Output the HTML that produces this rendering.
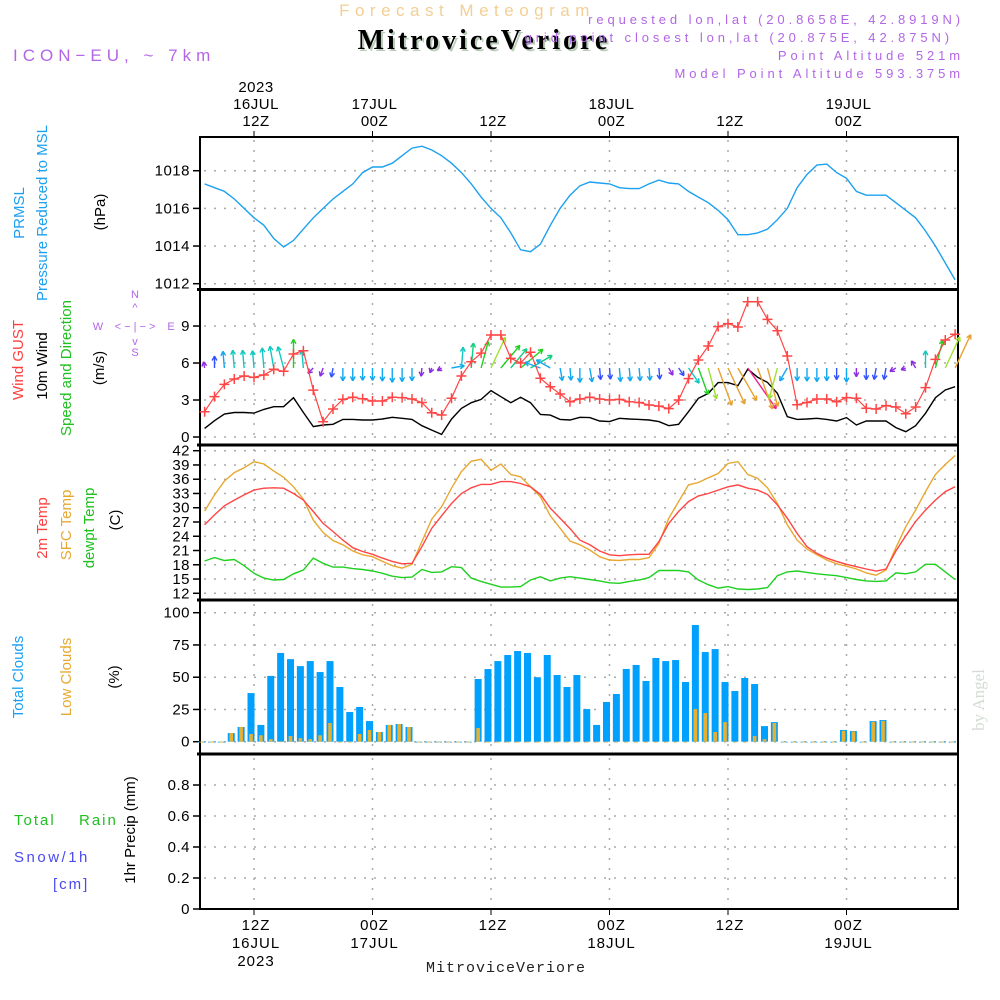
<!DOCTYPE html>
<html><head><meta charset="utf-8"><style>
html,body{margin:0;padding:0;background:#fff;}
svg{display:block;font-family:"Liberation Sans",sans-serif;}
</style></head><body>
<svg id="chart" width="1000" height="1000" viewBox="0 0 1000 1000" xmlns="http://www.w3.org/2000/svg">
<rect x="0" y="0" width="1000" height="1000" fill="#fff"/>
<text x="467" y="16" text-anchor="middle" font-size="17" fill="#f3cf95" letter-spacing="5.5">Forecast Meteogram</text>
<text x="486" y="51" text-anchor="middle" font-size="28" font-weight="bold" font-family="Liberation Serif, serif" fill="#b8ccb8" letter-spacing="3">MitroviceVeriore</text>
<text x="484" y="49" text-anchor="middle" font-size="28" font-weight="bold" font-family="Liberation Serif, serif" fill="#000" letter-spacing="3">MitroviceVeriore</text>
<text x="13" y="61" font-size="17" fill="#b266e6" letter-spacing="5">ICON−EU, ~ 7km</text>
<g font-size="13" fill="#b266e6" text-anchor="end" letter-spacing="3.9">
<text x="964" y="24">requested lon,lat (20.8658E, 42.8919N)</text>
<text x="953" y="42">grid point closest lon,lat (20.875E, 42.875N)</text>
<text x="964" y="60">Point Altitude 521m</text>
<text x="964" y="78">Model Point Altitude 593.375m</text>
</g>
<text transform="translate(984,700) rotate(-90)" text-anchor="middle" font-size="17" font-family="Liberation Serif, serif" fill="#d4dcd4">by Angel</text>

<g font-size="15">
<text transform="translate(24,213) rotate(-90)" text-anchor="middle" fill="#1ca0f0">PRMSL</text>
<text transform="translate(47,213) rotate(-90)" text-anchor="middle" fill="#1ca0f0">Pressure Reduced to MSL</text>
<text transform="translate(105,212) rotate(-90)" text-anchor="middle" fill="#000">(hPa)</text>
<text transform="translate(23,360) rotate(-90)" text-anchor="middle" fill="#ff4040">Wind GUST</text>
<text transform="translate(47,366) rotate(-90)" text-anchor="middle" fill="#000">10m Wind</text>
<text transform="translate(71,368) rotate(-90)" text-anchor="middle" fill="#20c020">Speed and Direction</text>
<text transform="translate(104,368) rotate(-90)" text-anchor="middle" fill="#000">(m/s)</text>
<text transform="translate(47,528) rotate(-90)" text-anchor="middle" fill="#ff4040">2m Temp</text>
<text transform="translate(71,525) rotate(-90)" text-anchor="middle" fill="#e8a830">SFC Temp</text>
<text transform="translate(94,528) rotate(-90)" text-anchor="middle" fill="#20c020">dewpt Temp</text>
<text transform="translate(120,520) rotate(-90)" text-anchor="middle" fill="#000">(C)</text>
<text transform="translate(23,677) rotate(-90)" text-anchor="middle" fill="#1ca0f0">Total Clouds</text>
<text transform="translate(71,677) rotate(-90)" text-anchor="middle" fill="#e8a830">Low Clouds</text>
<text transform="translate(119,677) rotate(-90)" text-anchor="middle" fill="#000">(%)</text>
<text transform="translate(135,830) rotate(-90)" text-anchor="middle" fill="#000">1hr Precip (mm)</text>
<text x="14" y="825" fill="#20c020" letter-spacing="2">Total</text>
<text x="79" y="825" fill="#20c020" letter-spacing="2">Rain</text>
<text x="14" y="862" fill="#4a4af0" letter-spacing="2.5">Snow/1h</text>
<text x="53" y="889" fill="#4a4af0" letter-spacing="2">[cm]</text>
</g>
<g font-size="11" fill="#b266e6" text-anchor="middle">
<text x="135" y="298">N</text><text x="135" y="311">^</text>
<text x="98" y="330">W</text><text x="135" y="330">&lt; − | − &gt;</text><text x="171" y="330">E</text>
<text x="135" y="345">v</text><text x="135" y="356">S</text>
</g>
<g id="plot"></g>
</svg>
<script>
// ---- data (hourly, t = hours since 00Z 16JUL, t=7..83) ----
const hours = [];
for (let t = 7; t <= 83; t++) hours.push(t);
const pressure = [1017.3,1017.1,1016.9,1016.5,1016.0,1015.5,1015.1,1014.4,1013.95,1014.3,1014.9,1015.5,1016.0,1016.5,1016.9,1017.3,1017.9,1018.2,1018.2,1018.4,1018.8,1019.2,1019.3,1019.1,1018.8,1018.4,1017.9,1017.3,1016.6,1016.0,1015.5,1014.7,1013.8,1013.7,1014.1,1015.1,1016.0,1016.7,1017.2,1017.4,1017.35,1017.3,1017.1,1017.05,1017.05,1017.3,1017.5,1017.35,1017.3,1016.9,1016.6,1016.3,1015.9,1015.4,1014.6,1014.6,1014.7,1014.9,1015.4,1016.0,1017.1,1017.8,1018.3,1018.35,1017.9,1017.6,1016.9,1016.7,1016.7,1016.7,1016.3,1015.9,1015.5,1014.8,1014.0,1013.1,1012.2];
const gust = [2.05,3.27,4.27,4.7,4.95,4.84,5.03,5.49,5.33,6.73,7.0,3.8,1.24,2.27,3.06,3.22,3.1,2.92,2.92,3.22,3.19,3.08,2.8,1.97,1.78,3.14,4.95,6.1,6.8,8.27,8.27,6.38,6.0,6.87,4.76,4.08,3.49,2.86,3.08,3.22,3.08,3.0,3.05,2.86,2.8,2.6,2.5,2.3,3.0,4.73,6.24,7.38,8.95,9.2,8.92,10.97,10.97,9.54,8.62,6.57,2.62,2.8,3.08,3.08,2.86,3.19,3.14,2.33,2.27,2.54,2.43,1.89,2.43,4.0,6.3,7.87,8.33];
const wind10m = [0.7,1.32,1.86,1.99,1.99,1.94,2.24,2.46,2.46,3.19,1.99,0.84,0.97,1.03,1.43,1.43,1.38,1.38,1.46,1.6,1.52,1.43,0.92,0.56,0.21,1.45,2.32,2.78,3.05,3.76,3.27,2.78,3.22,2.78,1.83,1.78,1.43,1.38,1.6,1.57,1.3,1.25,1.52,1.46,1.43,1.38,1.25,0.92,1.03,2.05,3.14,3.54,4.41,4.41,4.16,5.51,4.84,4.43,3.54,1.65,1.43,1.46,1.52,1.43,1.3,1.57,0.97,1.3,1.3,1.3,0.76,0.43,0.92,1.92,3.19,3.81,4.08];
// direction arrow points toward (deg, 0=up/north, clockwise)
const windToward = [-10,0,-5,-5,-5,-5,-5,-10,-15,0,-5,225,200,190,180,180,180,180,180,180,180,180,185,200,240,80,5,5,15,25,40,40,50,60,290,300,170,175,180,170,175,175,175,175,175,175,175,150,145,145,160,165,160,155,150,145,160,165,195,210,180,180,180,180,180,180,180,180,190,190,240,250,330,0,15,25,25];
const temp2m = [26.4,28.5,30.4,31.6,32.7,33.7,34.1,34.2,34.1,33.0,31.6,29.2,26.7,25.0,23.2,21.6,20.8,20.2,19.4,18.7,18.2,18.3,21.8,25.7,28.3,30.9,33.0,34.2,34.9,34.9,35.5,35.5,35.1,34.4,32.8,29.9,27.8,25.6,23.2,22.2,20.9,20.1,19.9,20.1,20.2,20.2,22.9,26.7,29.2,31.3,32.5,33.0,33.7,34.4,34.8,34.1,33.7,32.8,30.6,27.8,24.6,21.8,20.4,19.4,18.7,18.1,17.6,17.1,16.7,17.1,20.9,24.1,27.1,29.5,31.6,33.4,34.4];
const tempSfc = [29.3,32.7,35.6,37.4,38.4,39.7,39.2,37.7,36.4,34.4,31.8,27.4,24.8,23.1,22.2,20.9,20.1,19.7,18.7,17.8,17.3,18.1,22.9,27.6,30.2,34.1,37.6,39.8,40.2,37.9,39.2,37.0,36.5,34.4,32.3,28.3,25.7,23.0,22.2,21.1,19.7,19.0,18.9,19.1,19.1,19.5,22.5,27.8,31.3,34.8,35.3,36.3,37.2,39.3,39.7,37.0,36.2,34.2,30.9,26.4,23.2,21.3,20.1,19.0,18.2,17.7,17.1,16.3,15.8,16.9,21.6,26.0,29.5,33.4,37.0,39.1,41.0];
const dewpt = [18.8,19.5,18.9,19.1,17.8,16.2,15.2,14.8,14.9,16.1,16.9,19.4,18.3,17.5,17.5,17.2,17.0,16.7,16.2,15.6,15.3,15.4,17.0,16.4,16.5,17.6,17.4,15.2,14.5,13.9,13.3,13.3,13.4,14.8,15.5,14.6,15.2,15.5,15.2,14.9,14.6,14.2,14.1,14.5,14.8,15.3,16.8,16.8,16.8,16.5,14.8,13.8,13.1,13.4,12.9,12.8,12.9,13.2,15.7,16.5,16.7,16.4,16.1,15.9,15.7,15.3,14.9,14.6,14.5,14.6,16.3,16.1,16.5,18.1,18.1,16.5,14.9];
const totalClouds = [0,0,0,6.7,11.4,37.7,13,51,68.8,64,58.6,62.5,54,62.5,42.4,23,26.9,16,7.5,13,13.7,11.4,0,0,0,0,0,0,48.6,56.3,62.5,67.2,70.3,68.8,50,67.2,51.7,42.4,51.7,25.3,13,30.8,37.0,56.4,59.5,47.1,64.9,62.5,63.3,46.3,90.5,69.5,71.8,46.3,39.3,49.4,44.7,12.1,15.2,0,0,0,0,0,0,9.1,8.3,0,16.0,16.8,0,0,0,0,0,0,0];
const lowClouds = [0,0,0,6.7,11.4,6,5,2,0.3,4.4,2.8,2,5,14.5,0,0,6,9.1,7.5,13,13.7,11.4,0,0,0,0,0,0,10.6,0,0,0,0,0,0,0,0,0,0,0,0,0,0,0,0,0,0,0,0,0,25.3,22.2,7.5,15.2,0,0,4.4,2,14.5,0,0,0,0,0,0,8.5,8.0,0,15.5,16.2,0,0,0,0,0,0,0];
const precip = hours.map(() => 0);
const pressTicks = [1012,1014,1016,1018];
const windTicks = [0,3,6,9];
const tempTicks = [12,15,18,21,24,27,30,33,36,39,42];
const cloudTicks = [0,25,50,75,100];
const precipTicks = [0,0.2,0.4,0.6,0.8];
const timeTicks = [12,24,36,48,60,72];
const topLabels = [["2023","16JUL","12Z"],["","17JUL","00Z"],["","","12Z"],["","18JUL","00Z"],["","","12Z"],["","19JUL","00Z"]];
const botLabels = [["12Z","16JUL","2023"],["00Z","17JUL",""],["12Z","",""],["00Z","18JUL",""],["12Z","",""],["00Z","19JUL",""]];

// ---- axes ----
const L = 200, R = 958;
const X = t => 254 + (t - 12) * 9.875;
const Yp = v => 283.7 - (v - 1012) * 18.83;
const Yw = v => 437 - v * 12.33;
const Yt = v => 450.7 + (42 - v) * 4.753;
const Yc = v => 741.7 - v * 1.29;
const Yr = v => 909 - v * 155;

const NS = "http://www.w3.org/2000/svg";
const plot = document.getElementById('plot');
function el(tag, attrs, parent) {
  const e = document.createElementNS(NS, tag);
  for (const k in attrs) e.setAttribute(k, attrs[k]);
  (parent || plot).appendChild(e);
  return e;
}
const panels = [[137,289,pressTicks,Yp,'pressure'],[290,445,windTicks,Yw,'wind'],[446,600,tempTicks,Yt,'temperature'],[601,754,cloudTicks,Yc,'clouds'],[755,909,precipTicks,Yr,'precip']];
panels.forEach(([top, bot, ticks, Y, nm]) => {
  const g = el('g', {});
  
  
  ticks.forEach(v => {
    const y = Y(v);
    const gl = el('line', {x1: L+4, x2: R-2, y1: y, y2: y, stroke: '#aaa', 'stroke-dasharray': '2,8', 'stroke-width': 1.5}, g);
    
    
    el('line', {x1: L-7, x2: L, y1: y, y2: y, stroke: '#000', 'stroke-width': 1.5}, g);
    const tx = el('text', {x: L-10, y: y+5, 'text-anchor': 'end', 'font-size': 15, fill: '#000', 'letter-spacing': 0.5}, g);
    tx.textContent = (nm === 'precip' && v !== 0) ? v.toFixed(1) : String(v);
    
    
  });
  timeTicks.forEach(t => {
    const vl = el('line', {x1: X(t), x2: X(t), y1: top+3, y2: bot-2, stroke: '#aaa', 'stroke-dasharray': '2,8', 'stroke-width': 1.5}, g);
    
    
  });
});
el('rect', {x: L, y: 137, width: R-L, height: 909-137, fill: 'none', stroke: '#000', 'stroke-width': 2});
[289.5, 445, 600, 754].forEach(y => el('line', {x1: L-3, x2: R+1, y1: y, y2: y, stroke: '#000', 'stroke-width': 3}));
timeTicks.forEach((t, i) => {
  el('line', {x1: X(t), x2: X(t), y1: 131, y2: 137, stroke: '#000'});
  el('line', {x1: X(t), x2: X(t), y1: 909, y2: 915, stroke: '#000'});
  topLabels[i].forEach((s, j) => {
    if (!s) return;
    const tx = el('text', {x: X(t)+2, y: 92 + j*17, 'text-anchor': 'middle', 'font-size': 15, fill: '#000', 'letter-spacing': 0.5});
    tx.textContent = s;
    
    
  });
  botLabels[i].forEach((s, j) => {
    if (!s) return;
    const tx = el('text', {x: X(t)+2, y: 930 + j*18, 'text-anchor': 'middle', 'font-size': 15, fill: '#000', 'letter-spacing': 1});
    tx.textContent = s;
    
    
  });
});
const bt = el('text', {x: 506, y: 972, 'text-anchor': 'middle', 'font-size': 15, 'font-family': 'Liberation Mono, monospace', fill: '#222', 'letter-spacing': 1});
bt.textContent = 'MitroviceVeriore';



function line(vals, Y, color, name, w) {
  const d = vals.map((v, i) => (i ? 'L' : 'M') + X(hours[i]).toFixed(1) + ',' + Y(v).toFixed(1)).join('');
  const p = el('path', {d: d, fill: 'none', stroke: color, 'stroke-width': w || 1.4});
  
  
}
line(pressure, Yp, '#1ca0f0', 'pressure-line');
totalClouds.forEach((v, i) => {
  const cx = X(hours[i]) - 3;
  const b = el('rect', {x: cx-3.5, y: Yc(v), width: 7, height: Math.max(Yc(0)-Yc(v), 0.8), fill: '#00a0ff'});
  
  
  const lv = lowClouds[i];
  const o = el('rect', {x: cx-1.8, y: Yc(lv), width: 3.6, height: Math.max(Yc(0)-Yc(lv), 0.8), fill: '#e8b030'});
  
  
});
precip.forEach((v, i) => {
  const cx = X(hours[i]) - 3;
  const b = el('rect', {x: cx-3.5, y: Yr(v), width: 7, height: Yr(0)-Yr(v), fill: '#20c020'});
  
  
});
line(dewpt, Yt, '#20d020', 'dewpoint-line');
line(tempSfc, Yt, '#e8a830', 'sfc-temp-line');
line(temp2m, Yt, '#ff4545', '2m-temp-line');
line(wind10m, Yw, '#000', 'wind-10m-line');
function speedColor(s) {
  if (s < 1) return '#8a2be2';
  if (s < 1.35) return '#3050ff';
  if (s < 1.9) return '#10a8f0';
  if (s < 2.5) return '#10c8c0';
  if (s < 3.0) return '#10d080';
  if (s < 3.4) return '#20d020';
  if (s < 3.9) return '#a0e030';
  if (s < 5.0) return '#e8a030';
  return '#f02090';
}
wind10m.forEach((s, i) => {
  const x0 = X(hours[i]), y0 = 368;
  const a = windToward[i] * Math.PI / 180, len = Math.max(s * 9, 5);
  const x1 = x0 + Math.sin(a) * len, y1 = y0 - Math.cos(a) * len;
  const c = speedColor(s);
  const g = el('g', {stroke: c, 'stroke-width': 1.4, fill: 'none'});
  
  
  el('line', {x1: x0, y1: y0, x2: x1, y2: y1}, g);
  const h = 5, sp = 0.5;
  [a + Math.PI - sp, a + Math.PI + sp].forEach(b => {
    el('line', {x1: x1, y1: y1, x2: x1 + Math.sin(b)*h, y2: y1 - Math.cos(b)*h}, g);
  });
});
line(gust, Yw, '#ff4545', 'wind-gust-line', 1.2);
gust.forEach((v, i) => {
  const x = X(hours[i]), y = Yw(v);
  const m = el('path', {d: `M${x-5},${y}H${x+5}M${x},${y-5}V${y+5}`, stroke: '#ff4545', 'stroke-width': 1.5});
  
  
});
</script>
</body></html>
